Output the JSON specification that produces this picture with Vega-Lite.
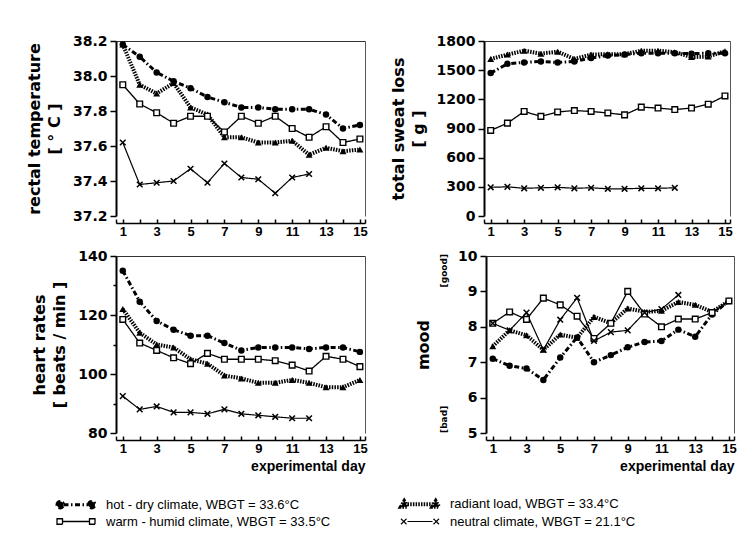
{
  "$schema": "https://vega.github.io/schema/vega-lite/v6.json",
  "background": "white",
  "padding": {"left": 26, "top": 34, "right": 5, "bottom": 5},
  "datasets": {
    "rectal": [
      {"day":1,"climate":"hot","value":38.18},{"day":2,"climate":"hot","value":38.11},{"day":3,"climate":"hot","value":38.02},{"day":4,"climate":"hot","value":37.97},{"day":5,"climate":"hot","value":37.93},{"day":6,"climate":"hot","value":37.88},{"day":7,"climate":"hot","value":37.85},{"day":8,"climate":"hot","value":37.82},{"day":9,"climate":"hot","value":37.82},{"day":10,"climate":"hot","value":37.81},{"day":11,"climate":"hot","value":37.81},{"day":12,"climate":"hot","value":37.81},{"day":13,"climate":"hot","value":37.78},{"day":14,"climate":"hot","value":37.70},{"day":15,"climate":"hot","value":37.72},
      {"day":1,"climate":"radiant","value":38.18},{"day":2,"climate":"radiant","value":37.95},{"day":3,"climate":"radiant","value":37.90},{"day":4,"climate":"radiant","value":37.96},{"day":5,"climate":"radiant","value":37.82},{"day":6,"climate":"radiant","value":37.78},{"day":7,"climate":"radiant","value":37.65},{"day":8,"climate":"radiant","value":37.65},{"day":9,"climate":"radiant","value":37.62},{"day":10,"climate":"radiant","value":37.62},{"day":11,"climate":"radiant","value":37.63},{"day":12,"climate":"radiant","value":37.55},{"day":13,"climate":"radiant","value":37.59},{"day":14,"climate":"radiant","value":37.57},{"day":15,"climate":"radiant","value":37.58},
      {"day":1,"climate":"warm","value":37.95},{"day":2,"climate":"warm","value":37.84},{"day":3,"climate":"warm","value":37.79},{"day":4,"climate":"warm","value":37.73},{"day":5,"climate":"warm","value":37.77},{"day":6,"climate":"warm","value":37.77},{"day":7,"climate":"warm","value":37.68},{"day":8,"climate":"warm","value":37.77},{"day":9,"climate":"warm","value":37.73},{"day":10,"climate":"warm","value":37.77},{"day":11,"climate":"warm","value":37.70},{"day":12,"climate":"warm","value":37.65},{"day":13,"climate":"warm","value":37.71},{"day":14,"climate":"warm","value":37.62},{"day":15,"climate":"warm","value":37.64},
      {"day":1,"climate":"neutral","value":37.62},{"day":2,"climate":"neutral","value":37.38},{"day":3,"climate":"neutral","value":37.39},{"day":4,"climate":"neutral","value":37.40},{"day":5,"climate":"neutral","value":37.47},{"day":6,"climate":"neutral","value":37.39},{"day":7,"climate":"neutral","value":37.50},{"day":8,"climate":"neutral","value":37.42},{"day":9,"climate":"neutral","value":37.41},{"day":10,"climate":"neutral","value":37.33},{"day":11,"climate":"neutral","value":37.42},{"day":12,"climate":"neutral","value":37.44}
    ],
    "sweat": [
      {"day":1,"climate":"hot","value":1470},{"day":2,"climate":"hot","value":1565},{"day":3,"climate":"hot","value":1580},{"day":4,"climate":"hot","value":1590},{"day":5,"climate":"hot","value":1580},{"day":6,"climate":"hot","value":1590},{"day":7,"climate":"hot","value":1625},{"day":8,"climate":"hot","value":1650},{"day":9,"climate":"hot","value":1660},{"day":10,"climate":"hot","value":1675},{"day":11,"climate":"hot","value":1675},{"day":12,"climate":"hot","value":1675},{"day":13,"climate":"hot","value":1670},{"day":14,"climate":"hot","value":1675},{"day":15,"climate":"hot","value":1675},
      {"day":1,"climate":"radiant","value":1615},{"day":2,"climate":"radiant","value":1660},{"day":3,"climate":"radiant","value":1700},{"day":4,"climate":"radiant","value":1670},{"day":5,"climate":"radiant","value":1690},{"day":6,"climate":"radiant","value":1615},{"day":7,"climate":"radiant","value":1660},{"day":8,"climate":"radiant","value":1665},{"day":9,"climate":"radiant","value":1665},{"day":10,"climate":"radiant","value":1700},{"day":11,"climate":"radiant","value":1700},{"day":12,"climate":"radiant","value":1685},{"day":13,"climate":"radiant","value":1635},{"day":14,"climate":"radiant","value":1640},{"day":15,"climate":"radiant","value":1695},
      {"day":1,"climate":"warm","value":880},{"day":2,"climate":"warm","value":955},{"day":3,"climate":"warm","value":1075},{"day":4,"climate":"warm","value":1025},{"day":5,"climate":"warm","value":1070},{"day":6,"climate":"warm","value":1085},{"day":7,"climate":"warm","value":1075},{"day":8,"climate":"warm","value":1060},{"day":9,"climate":"warm","value":1040},{"day":10,"climate":"warm","value":1120},{"day":11,"climate":"warm","value":1110},{"day":12,"climate":"warm","value":1095},{"day":13,"climate":"warm","value":1110},{"day":14,"climate":"warm","value":1150},{"day":15,"climate":"warm","value":1235},
      {"day":1,"climate":"neutral","value":295},{"day":2,"climate":"neutral","value":300},{"day":3,"climate":"neutral","value":285},{"day":4,"climate":"neutral","value":290},{"day":5,"climate":"neutral","value":295},{"day":6,"climate":"neutral","value":285},{"day":7,"climate":"neutral","value":290},{"day":8,"climate":"neutral","value":280},{"day":9,"climate":"neutral","value":280},{"day":10,"climate":"neutral","value":285},{"day":11,"climate":"neutral","value":285},{"day":12,"climate":"neutral","value":290}
    ],
    "hr": [
      {"day":1,"climate":"hot","value":135},{"day":2,"climate":"hot","value":124.5},{"day":3,"climate":"hot","value":118},{"day":4,"climate":"hot","value":115},{"day":5,"climate":"hot","value":113},{"day":6,"climate":"hot","value":113},{"day":7,"climate":"hot","value":110.5},{"day":8,"climate":"hot","value":108},{"day":9,"climate":"hot","value":109},{"day":10,"climate":"hot","value":109},{"day":11,"climate":"hot","value":109},{"day":12,"climate":"hot","value":108.5},{"day":13,"climate":"hot","value":109},{"day":14,"climate":"hot","value":109},{"day":15,"climate":"hot","value":107.5},
      {"day":1,"climate":"radiant","value":122},{"day":2,"climate":"radiant","value":114},{"day":3,"climate":"radiant","value":110},{"day":4,"climate":"radiant","value":109},{"day":5,"climate":"radiant","value":105},{"day":6,"climate":"radiant","value":103.5},{"day":7,"climate":"radiant","value":99.5},{"day":8,"climate":"radiant","value":98.5},{"day":9,"climate":"radiant","value":97},{"day":10,"climate":"radiant","value":97},{"day":11,"climate":"radiant","value":98},{"day":12,"climate":"radiant","value":97},{"day":13,"climate":"radiant","value":95.5},{"day":14,"climate":"radiant","value":95.5},{"day":15,"climate":"radiant","value":98},
      {"day":1,"climate":"warm","value":118.5},{"day":2,"climate":"warm","value":110.5},{"day":3,"climate":"warm","value":108},{"day":4,"climate":"warm","value":105.5},{"day":5,"climate":"warm","value":103.5},{"day":6,"climate":"warm","value":107},{"day":7,"climate":"warm","value":105},{"day":8,"climate":"warm","value":105},{"day":9,"climate":"warm","value":105},{"day":10,"climate":"warm","value":104.5},{"day":11,"climate":"warm","value":103},{"day":12,"climate":"warm","value":101},{"day":13,"climate":"warm","value":106},{"day":14,"climate":"warm","value":105},{"day":15,"climate":"warm","value":102.5},
      {"day":1,"climate":"neutral","value":92.5},{"day":2,"climate":"neutral","value":88},{"day":3,"climate":"neutral","value":89},{"day":4,"climate":"neutral","value":87},{"day":5,"climate":"neutral","value":87},{"day":6,"climate":"neutral","value":86.5},{"day":7,"climate":"neutral","value":88},{"day":8,"climate":"neutral","value":86.5},{"day":9,"climate":"neutral","value":86},{"day":10,"climate":"neutral","value":85.5},{"day":11,"climate":"neutral","value":85},{"day":12,"climate":"neutral","value":85}
    ],
    "mood": [
      {"day":1,"climate":"hot","value":7.1},{"day":2,"climate":"hot","value":6.9},{"day":3,"climate":"hot","value":6.82},{"day":4,"climate":"hot","value":6.5},{"day":5,"climate":"hot","value":7.13},{"day":6,"climate":"hot","value":7.7},{"day":7,"climate":"hot","value":7.0},{"day":8,"climate":"hot","value":7.2},{"day":9,"climate":"hot","value":7.42},{"day":10,"climate":"hot","value":7.57},{"day":11,"climate":"hot","value":7.6},{"day":12,"climate":"hot","value":7.92},{"day":13,"climate":"hot","value":7.72},{"day":14,"climate":"hot","value":8.35},{"day":15,"climate":"hot","value":8.73},
      {"day":1,"climate":"radiant","value":7.45},{"day":2,"climate":"radiant","value":7.9},{"day":3,"climate":"radiant","value":7.76},{"day":4,"climate":"radiant","value":7.35},{"day":5,"climate":"radiant","value":7.78},{"day":6,"climate":"radiant","value":7.69},{"day":7,"climate":"radiant","value":8.28},{"day":8,"climate":"radiant","value":8.1},{"day":9,"climate":"radiant","value":8.52},{"day":10,"climate":"radiant","value":8.42},{"day":11,"climate":"radiant","value":8.45},{"day":12,"climate":"radiant","value":8.7},{"day":13,"climate":"radiant","value":8.62},{"day":14,"climate":"radiant","value":8.42},{"day":15,"climate":"radiant","value":8.73},
      {"day":1,"climate":"warm","value":8.1},{"day":2,"climate":"warm","value":8.42},{"day":3,"climate":"warm","value":8.21},{"day":4,"climate":"warm","value":8.81},{"day":5,"climate":"warm","value":8.62},{"day":6,"climate":"warm","value":8.3},{"day":7,"climate":"warm","value":7.67},{"day":8,"climate":"warm","value":8.1},{"day":9,"climate":"warm","value":9.0},{"day":10,"climate":"warm","value":8.36},{"day":11,"climate":"warm","value":8.0},{"day":12,"climate":"warm","value":8.22},{"day":13,"climate":"warm","value":8.22},{"day":14,"climate":"warm","value":8.4},{"day":15,"climate":"warm","value":8.73},
      {"day":1,"climate":"neutral","value":8.1},{"day":2,"climate":"neutral","value":7.9},{"day":3,"climate":"neutral","value":8.4},{"day":4,"climate":"neutral","value":7.35},{"day":5,"climate":"neutral","value":8.2},{"day":6,"climate":"neutral","value":8.82},{"day":7,"climate":"neutral","value":7.6},{"day":8,"climate":"neutral","value":7.85},{"day":9,"climate":"neutral","value":7.9},{"day":10,"climate":"neutral","value":8.4},{"day":11,"climate":"neutral","value":8.5},{"day":12,"climate":"neutral","value":8.9}
    ]
  },
  "vconcat": [
    {
      "spacing": 19,
      "hconcat": [
        {
          "width": 249, "height": 175,
          "data": {"name": "rectal"},
          "layer": [
            {
              "mark": {"type": "line", "color": "black"},
              "encoding": {
                "x": {"field": "day", "type": "quantitative", "scale": {"domain": [0.6, 15.3], "nice": false, "zero": false},
                      "axis": {"orient": "bottom", "offset": 7, "values": [0.6,1,2,3,4,5,6,7,8,9,10,11,12,13,14,15,15.3], "tickSize": -4, "labelExpr": "(datum.value % 2 == 1) ? format(datum.value, 'd') : ''", "title": null}},
                "y": {"field": "value", "type": "quantitative", "scale": {"domain": [37.2, 38.2], "nice": false, "zero": false},
                      "axis": {"orient": "left", "values": [37.2,37.4,37.6,37.8,38.0,38.2], "format": ".1f", "title": ["rectal temperature", "[ ° C ]"]}},
                "strokeDash": {"field": "climate", "scale": {"domain": ["hot","warm","radiant","neutral"], "range": [[5,2.5,1.5,2.5],[1,0],[1.5,1.2],[1,0]]},
                  "legend": {"title": null, "orient": "none", "legendX": -47, "legendY": 456, "padding": 0, "columns": 2, "symbolSize": 100, "symbolOpacity": 1, "labelOffset": 23, "columnPadding": 62, "rowPadding": -3, "labelFont": "Liberation Sans", "labelFontSize": 13, "labelFontWeight": "normal", "labelLimit": 0, "labelColor": "black", "labelExpr": "datum.label == 'hot' ? 'hot - dry climate, WBGT = 33.6°C' : datum.label == 'radiant' ? 'radiant load, WBGT = 33.4°C' : datum.label == 'warm' ? 'warm - humid climate, WBGT = 33.5°C' : 'neutral climate, WBGT = 21.1°C'"}},
                "strokeWidth": {"field": "climate", "scale": {"type": "ordinal", "domain": ["hot","warm","radiant","neutral"], "range": [3,1.3,4,1.2]},
                  "legend": {"title": null, "orient": "none", "legendX": -47, "legendY": 456, "padding": 0, "columns": 2, "symbolSize": 100, "symbolOpacity": 1, "labelOffset": 23, "columnPadding": 62, "rowPadding": -3, "labelFont": "Liberation Sans", "labelFontSize": 13, "labelFontWeight": "normal", "labelLimit": 0, "labelColor": "black", "labelExpr": "datum.label == 'hot' ? 'hot - dry climate, WBGT = 33.6°C' : datum.label == 'radiant' ? 'radiant load, WBGT = 33.4°C' : datum.label == 'warm' ? 'warm - humid climate, WBGT = 33.5°C' : 'neutral climate, WBGT = 21.1°C'"}}
              }
            },
            {
              "transform": [{"filter": "datum.climate == 'hot'"}],
              "mark": {"type": "point", "shape": "circle", "filled": true, "color": "black", "opacity": 1, "size": 42},
              "encoding": {
                "x": {"field": "day", "type": "quantitative", "axis": {"orient": "top", "ticks": false, "labels": false, "title": null, "domainWidth": 1, "domainColor": "#333"}},
                "y": {"field": "value", "type": "quantitative", "axis": {"orient": "right", "ticks": false, "labels": false, "title": null, "domainWidth": 1, "domainColor": "#555"}}
              }
            },
            {
              "transform": [{"filter": "datum.climate == 'radiant'"}],
              "mark": {"type": "point", "shape": "triangle-up", "filled": true, "color": "black", "opacity": 1, "size": 48},
              "encoding": {
                "x": {"field": "day", "type": "quantitative", "axis": null},
                "y": {"field": "value", "type": "quantitative", "axis": null}
              }
            },
            {
              "transform": [{"filter": "datum.climate == 'warm'"}],
              "mark": {"type": "point", "shape": "square", "filled": true, "fill": "white", "stroke": "black", "strokeWidth": 1.4, "opacity": 1, "size": 32},
              "encoding": {
                "x": {"field": "day", "type": "quantitative", "axis": null},
                "y": {"field": "value", "type": "quantitative", "axis": null}
              }
            },
            {
              "transform": [{"filter": "datum.climate == 'neutral'"}],
              "mark": {"type": "point", "shape": "M-1,-1L1,1M-1,1L1,-1", "filled": false, "stroke": "black", "strokeWidth": 1.5, "opacity": 1, "size": 32},
              "encoding": {
                "x": {"field": "day", "type": "quantitative", "axis": null},
                "y": {"field": "value", "type": "quantitative", "axis": null}
              }
            },
            {
              "mark": {"type": "point", "filled": true, "stroke": "black", "opacity": 0},
              "encoding": {
                "x": {"field": "day", "type": "quantitative", "axis": null},
                "y": {"field": "value", "type": "quantitative", "axis": null},
                "shape": {"field": "climate", "scale": {"domain": ["hot","warm","radiant","neutral"], "range": [
                    "M-3.8,0A0.65,0.65,0,1,1,-2.5,0A0.65,0.65,0,1,1,-3.8,0ZM-2.5,0L2.5,0M2.5,0A0.65,0.65,0,1,1,3.8,0A0.65,0.65,0,1,1,2.5,0Z",
                    "M-3.8,-0.55H-2.7V0.55H-3.8ZM-2.7,0H2.7M2.7,-0.55H3.8V0.55H2.7Z",
                    "M-3.8,0.5L-3.15,-0.6L-2.5,0.5ZM-2.5,0L2.5,0M2.5,0.5L3.15,-0.6L3.8,0.5Z",
                    "M-3.8,-0.55L-2.7,0.55M-3.8,0.55L-2.7,-0.55M-2.5,0H2.5M2.7,-0.55L3.8,0.55M2.7,0.55L3.8,-0.55"]},
                  "legend": {"title": null, "orient": "none", "legendX": -47, "legendY": 456, "padding": 0, "columns": 2, "symbolSize": 100, "symbolOpacity": 1, "labelOffset": 23, "columnPadding": 62, "rowPadding": -3, "labelFont": "Liberation Sans", "labelFontSize": 13, "labelFontWeight": "normal", "labelLimit": 0, "labelColor": "black", "labelExpr": "datum.label == 'hot' ? 'hot - dry climate, WBGT = 33.6°C' : datum.label == 'radiant' ? 'radiant load, WBGT = 33.4°C' : datum.label == 'warm' ? 'warm - humid climate, WBGT = 33.5°C' : 'neutral climate, WBGT = 21.1°C'"}},
                "fill": {"field": "climate", "scale": {"domain": ["hot","warm","radiant","neutral"], "range": ["black","white","black","transparent"]},
                  "legend": {"title": null, "orient": "none", "legendX": -47, "legendY": 456, "padding": 0, "columns": 2, "symbolSize": 100, "symbolOpacity": 1, "labelOffset": 23, "columnPadding": 62, "rowPadding": -3, "labelFont": "Liberation Sans", "labelFontSize": 13, "labelFontWeight": "normal", "labelLimit": 0, "labelColor": "black", "labelExpr": "datum.label == 'hot' ? 'hot - dry climate, WBGT = 33.6°C' : datum.label == 'radiant' ? 'radiant load, WBGT = 33.4°C' : datum.label == 'warm' ? 'warm - humid climate, WBGT = 33.5°C' : 'neutral climate, WBGT = 21.1°C'"}}
              }
            }
          ],
          "resolve": {"axis": {"x": "independent", "y": "independent"}}
        },
        {
          "width": 246, "height": 175,
          "data": {"name": "sweat"},
          "layer": [
            {
              "mark": {"type": "line", "color": "black"},
              "encoding": {
                "x": {"field": "day", "type": "quantitative", "scale": {"domain": [0.6, 15.3], "nice": false, "zero": false},
                      "axis": {"orient": "bottom", "offset": 7, "values": [0.6,1,2,3,4,5,6,7,8,9,10,11,12,13,14,15,15.3], "tickSize": -4, "labelExpr": "(datum.value % 2 == 1) ? format(datum.value, 'd') : ''", "title": null}},
                "y": {"field": "value", "type": "quantitative", "scale": {"domain": [0, 1800], "nice": false, "zero": false},
                      "axis": {"orient": "left", "values": [0,300,600,900,1200,1500,1800], "format": "d", "title": ["total sweat loss", "[ g ]"]}},
                "strokeDash": {"field": "climate", "scale": {"domain": ["hot","warm","radiant","neutral"], "range": [[5,2.5,1.5,2.5],[1,0],[1.5,1.2],[1,0]]},
                  "legend": {"title": null, "orient": "none", "legendX": -47, "legendY": 456, "padding": 0, "columns": 2, "symbolSize": 100, "symbolOpacity": 1, "labelOffset": 23, "columnPadding": 62, "rowPadding": -3, "labelFont": "Liberation Sans", "labelFontSize": 13, "labelFontWeight": "normal", "labelLimit": 0, "labelColor": "black", "labelExpr": "datum.label == 'hot' ? 'hot - dry climate, WBGT = 33.6°C' : datum.label == 'radiant' ? 'radiant load, WBGT = 33.4°C' : datum.label == 'warm' ? 'warm - humid climate, WBGT = 33.5°C' : 'neutral climate, WBGT = 21.1°C'"}},
                "strokeWidth": {"field": "climate", "scale": {"type": "ordinal", "domain": ["hot","warm","radiant","neutral"], "range": [3,1.3,4,1.2]},
                  "legend": {"title": null, "orient": "none", "legendX": -47, "legendY": 456, "padding": 0, "columns": 2, "symbolSize": 100, "symbolOpacity": 1, "labelOffset": 23, "columnPadding": 62, "rowPadding": -3, "labelFont": "Liberation Sans", "labelFontSize": 13, "labelFontWeight": "normal", "labelLimit": 0, "labelColor": "black", "labelExpr": "datum.label == 'hot' ? 'hot - dry climate, WBGT = 33.6°C' : datum.label == 'radiant' ? 'radiant load, WBGT = 33.4°C' : datum.label == 'warm' ? 'warm - humid climate, WBGT = 33.5°C' : 'neutral climate, WBGT = 21.1°C'"}}
              }
            },
            {
              "transform": [{"filter": "datum.climate == 'hot'"}],
              "mark": {"type": "point", "shape": "circle", "filled": true, "color": "black", "opacity": 1, "size": 42},
              "encoding": {
                "x": {"field": "day", "type": "quantitative", "axis": {"orient": "top", "ticks": false, "labels": false, "title": null, "domainWidth": 1, "domainColor": "#333"}},
                "y": {"field": "value", "type": "quantitative", "axis": {"orient": "right", "ticks": false, "labels": false, "title": null, "domainWidth": 1, "domainColor": "#555"}}
              }
            },
            {
              "transform": [{"filter": "datum.climate == 'radiant'"}],
              "mark": {"type": "point", "shape": "triangle-up", "filled": true, "color": "black", "opacity": 1, "size": 48},
              "encoding": {
                "x": {"field": "day", "type": "quantitative", "axis": null},
                "y": {"field": "value", "type": "quantitative", "axis": null}
              }
            },
            {
              "transform": [{"filter": "datum.climate == 'warm'"}],
              "mark": {"type": "point", "shape": "square", "filled": true, "fill": "white", "stroke": "black", "strokeWidth": 1.4, "opacity": 1, "size": 32},
              "encoding": {
                "x": {"field": "day", "type": "quantitative", "axis": null},
                "y": {"field": "value", "type": "quantitative", "axis": null}
              }
            },
            {
              "transform": [{"filter": "datum.climate == 'neutral'"}],
              "mark": {"type": "point", "shape": "M-1,-1L1,1M-1,1L1,-1", "filled": false, "stroke": "black", "strokeWidth": 1.5, "opacity": 1, "size": 32},
              "encoding": {
                "x": {"field": "day", "type": "quantitative", "axis": null},
                "y": {"field": "value", "type": "quantitative", "axis": null}
              }
            }
          ],
          "resolve": {"axis": {"x": "independent", "y": "independent"}}
        }
      ]
    },
    {
      "spacing": 47,
      "hconcat": [
        {
          "width": 249, "height": 177,
          "data": {"name": "hr"},
          "layer": [
            {
              "mark": {"type": "line", "color": "black"},
              "encoding": {
                "x": {"field": "day", "type": "quantitative", "scale": {"domain": [0.6, 15.3], "nice": false, "zero": false},
                      "axis": {"orient": "bottom", "offset": 7, "values": [0.6,1,2,3,4,5,6,7,8,9,10,11,12,13,14,15,15.3], "tickSize": -4, "labelExpr": "(datum.value % 2 == 1) ? format(datum.value, 'd') : ''", "title": "experimental day", "titleAnchor": "end", "titlePadding": 4}},
                "y": {"field": "value", "type": "quantitative", "scale": {"domain": [80, 140], "nice": false, "zero": false},
                      "axis": {"orient": "left", "values": [80,90,100,110,120,130,140], "labelExpr": "datum.value % 20 == 0 ? datum.label : ''", "tickSize": {"condition": {"test": "datum.value % 20 == 0", "value": 6}, "value": 3}, "title": ["heart rates", "[ beats / min ]"]}},
                "strokeDash": {"field": "climate", "scale": {"domain": ["hot","warm","radiant","neutral"], "range": [[5,2.5,1.5,2.5],[1,0],[1.5,1.2],[1,0]]},
                  "legend": {"title": null, "orient": "none", "legendX": -47, "legendY": 456, "padding": 0, "columns": 2, "symbolSize": 100, "symbolOpacity": 1, "labelOffset": 23, "columnPadding": 62, "rowPadding": -3, "labelFont": "Liberation Sans", "labelFontSize": 13, "labelFontWeight": "normal", "labelLimit": 0, "labelColor": "black", "labelExpr": "datum.label == 'hot' ? 'hot - dry climate, WBGT = 33.6°C' : datum.label == 'radiant' ? 'radiant load, WBGT = 33.4°C' : datum.label == 'warm' ? 'warm - humid climate, WBGT = 33.5°C' : 'neutral climate, WBGT = 21.1°C'"}},
                "strokeWidth": {"field": "climate", "scale": {"type": "ordinal", "domain": ["hot","warm","radiant","neutral"], "range": [3,1.3,4,1.2]},
                  "legend": {"title": null, "orient": "none", "legendX": -47, "legendY": 456, "padding": 0, "columns": 2, "symbolSize": 100, "symbolOpacity": 1, "labelOffset": 23, "columnPadding": 62, "rowPadding": -3, "labelFont": "Liberation Sans", "labelFontSize": 13, "labelFontWeight": "normal", "labelLimit": 0, "labelColor": "black", "labelExpr": "datum.label == 'hot' ? 'hot - dry climate, WBGT = 33.6°C' : datum.label == 'radiant' ? 'radiant load, WBGT = 33.4°C' : datum.label == 'warm' ? 'warm - humid climate, WBGT = 33.5°C' : 'neutral climate, WBGT = 21.1°C'"}}
              }
            },
            {
              "transform": [{"filter": "datum.climate == 'hot'"}],
              "mark": {"type": "point", "shape": "circle", "filled": true, "color": "black", "opacity": 1, "size": 42},
              "encoding": {
                "x": {"field": "day", "type": "quantitative", "axis": {"orient": "top", "ticks": false, "labels": false, "title": null, "domainWidth": 1, "domainColor": "#333"}},
                "y": {"field": "value", "type": "quantitative", "axis": {"orient": "right", "ticks": false, "labels": false, "title": null, "domainWidth": 1, "domainColor": "#555"}}
              }
            },
            {
              "transform": [{"filter": "datum.climate == 'radiant'"}],
              "mark": {"type": "point", "shape": "triangle-up", "filled": true, "color": "black", "opacity": 1, "size": 48},
              "encoding": {
                "x": {"field": "day", "type": "quantitative", "axis": null},
                "y": {"field": "value", "type": "quantitative", "axis": null}
              }
            },
            {
              "transform": [{"filter": "datum.climate == 'warm'"}],
              "mark": {"type": "point", "shape": "square", "filled": true, "fill": "white", "stroke": "black", "strokeWidth": 1.4, "opacity": 1, "size": 32},
              "encoding": {
                "x": {"field": "day", "type": "quantitative", "axis": null},
                "y": {"field": "value", "type": "quantitative", "axis": null}
              }
            },
            {
              "transform": [{"filter": "datum.climate == 'neutral'"}],
              "mark": {"type": "point", "shape": "M-1,-1L1,1M-1,1L1,-1", "filled": false, "stroke": "black", "strokeWidth": 1.5, "opacity": 1, "size": 32},
              "encoding": {
                "x": {"field": "day", "type": "quantitative", "axis": null},
                "y": {"field": "value", "type": "quantitative", "axis": null}
              }
            }
          ],
          "resolve": {"axis": {"x": "independent", "y": "independent"}}
        },
        {
          "width": 248, "height": 177,
          "data": {"name": "mood"},
          "layer": [
            {
              "mark": {"type": "line", "color": "black"},
              "encoding": {
                "x": {"field": "day", "type": "quantitative", "scale": {"domain": [0.6, 15.3], "nice": false, "zero": false},
                      "axis": {"orient": "bottom", "offset": 7, "values": [0.6,1,2,3,4,5,6,7,8,9,10,11,12,13,14,15,15.3], "tickSize": -4, "labelExpr": "(datum.value % 2 == 1) ? format(datum.value, 'd') : ''", "title": "experimental day", "titleAnchor": "end", "titlePadding": 4}},
                "y": {"field": "value", "type": "quantitative", "scale": {"domain": [5, 10], "nice": false, "zero": false},
                      "axis": {"orient": "left", "values": [5,6,7,8,9,10], "format": "d", "title": null}},
                "strokeDash": {"field": "climate", "scale": {"domain": ["hot","warm","radiant","neutral"], "range": [[5,2.5,1.5,2.5],[1,0],[1.5,1.2],[1,0]]},
                  "legend": {"title": null, "orient": "none", "legendX": -47, "legendY": 456, "padding": 0, "columns": 2, "symbolSize": 100, "symbolOpacity": 1, "labelOffset": 23, "columnPadding": 62, "rowPadding": -3, "labelFont": "Liberation Sans", "labelFontSize": 13, "labelFontWeight": "normal", "labelLimit": 0, "labelColor": "black", "labelExpr": "datum.label == 'hot' ? 'hot - dry climate, WBGT = 33.6°C' : datum.label == 'radiant' ? 'radiant load, WBGT = 33.4°C' : datum.label == 'warm' ? 'warm - humid climate, WBGT = 33.5°C' : 'neutral climate, WBGT = 21.1°C'"}},
                "strokeWidth": {"field": "climate", "scale": {"type": "ordinal", "domain": ["hot","warm","radiant","neutral"], "range": [3,1.3,4,1.2]},
                  "legend": {"title": null, "orient": "none", "legendX": -47, "legendY": 456, "padding": 0, "columns": 2, "symbolSize": 100, "symbolOpacity": 1, "labelOffset": 23, "columnPadding": 62, "rowPadding": -3, "labelFont": "Liberation Sans", "labelFontSize": 13, "labelFontWeight": "normal", "labelLimit": 0, "labelColor": "black", "labelExpr": "datum.label == 'hot' ? 'hot - dry climate, WBGT = 33.6°C' : datum.label == 'radiant' ? 'radiant load, WBGT = 33.4°C' : datum.label == 'warm' ? 'warm - humid climate, WBGT = 33.5°C' : 'neutral climate, WBGT = 21.1°C'"}}
              }
            },
            {
              "transform": [{"filter": "datum.climate == 'hot'"}],
              "mark": {"type": "point", "shape": "circle", "filled": true, "color": "black", "opacity": 1, "size": 42},
              "encoding": {
                "x": {"field": "day", "type": "quantitative", "axis": {"orient": "top", "ticks": false, "labels": false, "title": null, "domainWidth": 1, "domainColor": "#333"}},
                "y": {"field": "value", "type": "quantitative", "axis": {"orient": "right", "ticks": false, "labels": false, "title": null, "domainWidth": 1, "domainColor": "#555"}}
              }
            },
            {
              "transform": [{"filter": "datum.climate == 'radiant'"}],
              "mark": {"type": "point", "shape": "triangle-up", "filled": true, "color": "black", "opacity": 1, "size": 48},
              "encoding": {
                "x": {"field": "day", "type": "quantitative", "axis": null},
                "y": {"field": "value", "type": "quantitative", "axis": null}
              }
            },
            {
              "transform": [{"filter": "datum.climate == 'warm'"}],
              "mark": {"type": "point", "shape": "square", "filled": true, "fill": "white", "stroke": "black", "strokeWidth": 1.4, "opacity": 1, "size": 32},
              "encoding": {
                "x": {"field": "day", "type": "quantitative", "axis": null},
                "y": {"field": "value", "type": "quantitative", "axis": {"orient": "left", "offset": 36, "values": [5.4, 9.6], "labelExpr": "datum.value > 7 ? '[good]' : '[bad]'", "labelAngle": -90, "labelAlign": "center", "labelBaseline": "bottom", "labelFontSize": 9, "labelPadding": 2, "ticks": false, "tickSize": 0, "domain": false, "title": "mood", "titlePadding": 8}}
              }
            },
            {
              "transform": [{"filter": "datum.climate == 'neutral'"}],
              "mark": {"type": "point", "shape": "M-1,-1L1,1M-1,1L1,-1", "filled": false, "stroke": "black", "strokeWidth": 1.5, "opacity": 1, "size": 32},
              "encoding": {
                "x": {"field": "day", "type": "quantitative", "axis": null},
                "y": {"field": "value", "type": "quantitative", "axis": null}
              }
            }
          ],
          "resolve": {"axis": {"x": "independent", "y": "independent"}}
        }
      ]
    }
  ],
  "spacing": 11,
  "config": {
    "view": {"stroke": null},
    "axis": {
      "grid": false,
      "domainColor": "black", "domainWidth": 2, "tickColor": "black", "tickWidth": 1.5, "tickSize": 6,
      "labelFont": "DejaVu Sans", "labelFontWeight": "bold", "labelFontSize": 14, "labelColor": "black", "labelPadding": 3,
      "titleFont": "DejaVu Sans", "titleFontWeight": "bold", "titleFontSize": 16, "titleColor": "black", "titlePadding": 10, "titleLineHeight": 20
    },
    "axisX": {"labelFont": "Liberation Sans", "labelFontSize": 13, "titleFont": "Liberation Sans", "titleFontSize": 14, "domainWidth": 1.5, "labelPadding": 6}
  }
}
